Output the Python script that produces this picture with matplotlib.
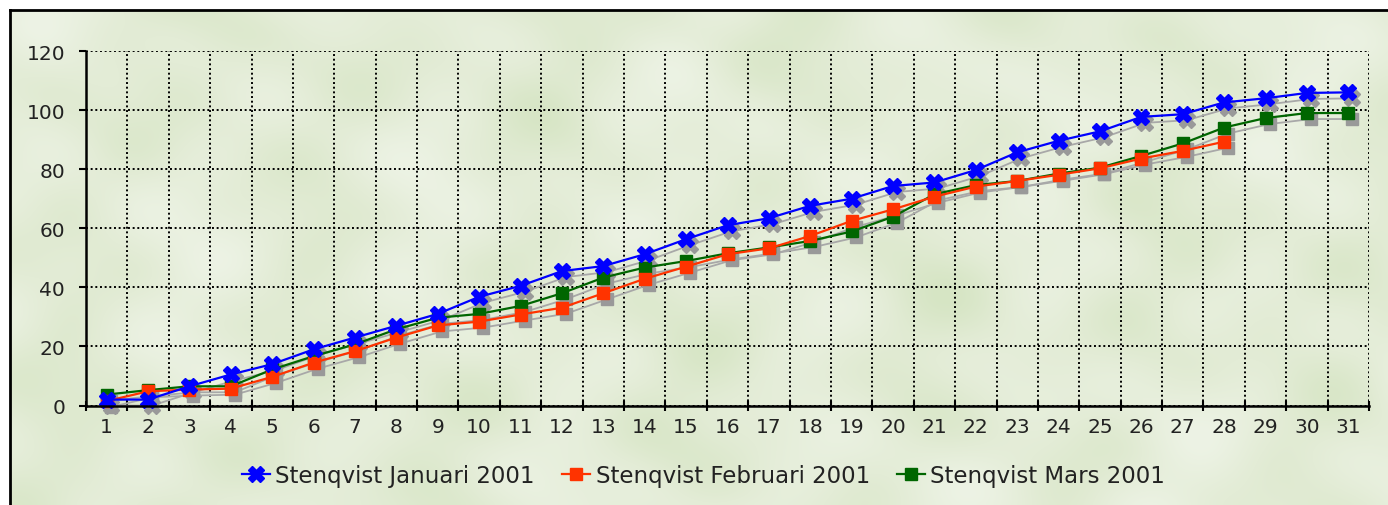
import matplotlib
matplotlib.use("Agg")
import numpy as np
import matplotlib.pyplot as plt
import matplotlib.transforms as mtransforms
from matplotlib.lines import Line2D
from matplotlib.colors import LinearSegmentedColormap

plt.rcParams['font.family'] = ['DejaVu Sans']

# days of the month
days_jan = list(range(1, 32))
days_feb = list(range(1, 29))
days_mar = list(range(1, 32))

jan = [2, 2, 6.5, 10.5, 14, 19, 23, 27, 31, 36.8, 40.5, 45.5, 47.2, 51.2, 56.3, 61,
       63.4, 67.6, 70, 74.3, 75.5, 79.7, 85.7, 89.6, 92.8, 97.7, 98.6, 102.6, 104, 105.8, 106]
feb = [1.5, 4.8, 5.4, 5.7, 9.7, 14.5, 18.4, 23, 27.1, 28.4, 30.8, 33.1, 38, 42.9, 47,
       51.2, 53.2, 57.4, 62.5, 66.4, 70.7, 74.1, 76, 78.1, 80.3, 83.6, 86.2, 89.3]
mar = [3.7, 5.2, 6.5, 6.5, 12.2, 16.7, 20.7, 25.8, 29.7, 31, 33.7, 38, 43.3, 46.7, 48.9,
       51.5, 53.5, 55.7, 58.9, 63.9, 71.5, 74.6, 76, 78.5, 80.5, 84.5, 88.7, 94.1, 97.3, 99, 99]

labels = ["Stenqvist Januari 2001", "Stenqvist Februari 2001", "Stenqvist Mars 2001"]
colors = ["#0000ff", "#ff3300", "#006600"]
markers = ["X", "s", "s"]
msizes = [11.5, 9, 9]
zorders = [5, 4, 3]

W, H = 1388, 506

fig = plt.figure(figsize=(W / 100, H / 100), dpi=100)
fig.patch.set_facecolor("white")

# mottled pale green backdrop (smooth, deterministic, no repeating grid)
bgax = fig.add_axes([10 / W, 0, 1 - 10 / W, 1 - 11 / H], zorder=-10)
gx, gy = np.meshgrid(np.linspace(0, 1378, 460), np.linspace(0, 495, 165))
tex = np.zeros_like(gx)
for k, (fr, ang, ph) in enumerate([(0.031, 0.3, 0.0), (0.047, 1.9, 1.1), (0.023, 2.7, 2.3),
                                   (0.059, 0.9, 0.4), (0.017, 1.4, 3.0), (0.071, 2.2, 1.7)]):
    warp = 9.0 * np.sin(gy * 0.013 + k) + 7.0 * np.cos(gx * 0.011 - k)
    tex += np.sin(fr * (np.cos(ang) * gx + np.sin(ang) * gy + warp) + ph) / (1 + 0.3 * k)
cmap = LinearSegmentedColormap.from_list("paper", ["#d6e5c4", "#e3ecd6", "#edf3e5"])
bgax.imshow(tex, cmap=cmap, aspect="auto", interpolation="bicubic")
bgax.set_axis_off()
fig.lines.append(Line2D([10 / W, 1], [1 - 11 / H, 1 - 11 / H], transform=fig.transFigure,
                        color="black", lw=2))
fig.lines.append(Line2D([10 / W, 10 / W], [0, 1 - 11 / H], transform=fig.transFigure,
                        color="black", lw=2))

ax = fig.add_axes([86 / W, 1 - 406.5 / H, (1369 - 86) / W, (406.5 - 52) / H])
ax.set_facecolor("none")

series = [(days_jan, jan), (days_feb, feb), (days_mar, mar)]

# shadows
shadow = mtransforms.offset_copy(ax.transData, fig=fig, x=4, y=-6, units="dots")
for (x, y), m, ms in zip(series, markers, msizes):
    ax.plot(x, y, color="#a8a8a8", lw=1.3, marker=m, ms=ms, mec="#999999", mfc="#999999",
            transform=shadow, zorder=2, clip_on=False)

for (x, y), lab, c, m, ms, z in zip(series, labels, colors, markers, msizes, zorders):
    ax.plot(x, y, color=c, lw=1.6, marker=m, ms=ms, mec=c, mfc=c, label=lab, zorder=z,
            clip_on=False)

ax.set_xlim(0.5, 31.5)
ax.set_ylim(0, 120)
ax.set_yticks(range(0, 121, 20))
ax.set_xticks([d + 0.5 for d in range(0, 32)])
ax.set_xticklabels([])
ax.set_xticks(days_jan, minor=True)
ax.set_xticklabels([str(d) for d in days_jan], minor=True)
ax.tick_params(axis="x", which="major", direction="inout", length=7, width=1.5, color="black")
ax.tick_params(axis="x", which="minor", length=0, pad=8, labelsize=14.5, labelcolor="#222222")
ax.tick_params(axis="y", direction="out", length=5, width=1.5, pad=10, labelsize=14.5,
               labelcolor="#222222")

ax.grid(True, which="major", color="black", linestyle=(0, (1, 1.4)), lw=1.4)
ax.set_axisbelow(True)
for s in ["top", "right"]:
    ax.spines[s].set_visible(False)
for s in ["left", "bottom"]:
    ax.spines[s].set_linewidth(1.8)
    ax.spines[s].set_zorder(6)

fig.legend(loc="center", bbox_to_anchor=(0.507, 1 - 477 / H), ncol=3, frameon=False,
           fontsize=16.5, handlelength=1.2, columnspacing=1.2, handletextpad=0.25,
           labelcolor="#222222")

fig.savefig("out.png", dpi=100)
